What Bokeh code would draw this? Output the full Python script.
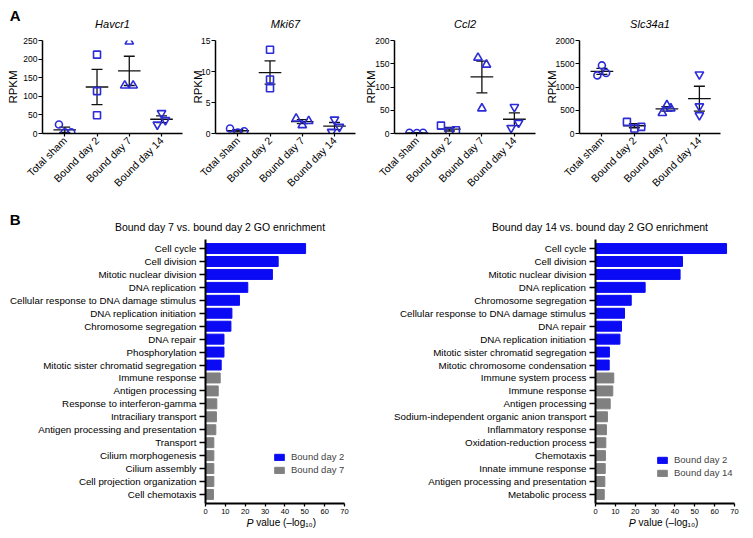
from math import pi
import numpy as np
from bokeh.plotting import figure
from bokeh.layouts import row, column
from bokeh.models import Range1d, FixedTicker, Label, ColumnDataSource
from bokeh.embed import file_html
from bokeh.resources import INLINE

FONT = "Liberation Sans"
BLUE_PT = "#2b2bd8"
BLUE = "#0a0af5"
GRAY = "#808080"
INK = "#111111"

# ---------------- Panel A data ----------------
groups = ["Total sham", "Bound day 2", "Bound day 7", "Bound day 14"]
genes = ["Havcr1", "Mki67", "Ccl2", "Slc34a1"]
markers = ["circle", "square", "triangle", "inverted_triangle"]

havcr1 = [[24, 3, 3], [212, 114, 49], [247, 129, 129], [55, 24, 36]]
havcr1_dx = [[-0.18, 0.0, 0.2], [0.0, 0.0, 0.0], [0.0, -0.14, 0.12], [0.0, -0.13, 0.12]]
mki67 = [[0.8, 0.16, 0.37], [13.5, 8.7, 7.3], [2.4, 1.34, 2.0], [2.25, 0.27, 1.07]]
mki67_dx = [[-0.24, 0.0, 0.2], [0.0, 0.0, 0.0], [-0.19, 0.0, 0.2], [0.0, -0.09, 0.15]]
ccl2 = [[1.5, 1.0, 1.5], [17, 4, 7], [163, 148, 54], [57, 12, 23]]
ccl2_dx = [[-0.23, 0.0, 0.19], [-0.26, 0.0, 0.2], [-0.12, 0.14, 0.0], [0.0, -0.1, 0.13]]
slc34a1 = [[1464, 1250, 1300], [250, 107, 143], [610, 440, 540], [1271, 585, 393]]
slc34a1_dx = [[0.0, -0.14, 0.13], [-0.23, 0.0, 0.21], [0.0, -0.14, 0.12], [0.0, 0.0, 0.0]]

y_max = [250, 15, 200, 2000]
y_ticks = [[0, 50, 100, 150, 200, 250], [0, 5, 10, 15], [0, 50, 100, 150, 200],
           [0, 500, 1000, 1500, 2000]]

# ---------------- Panel B data ----------------
go7_title = "Bound day 7 vs. bound day 2 GO enrichment"
go7_terms = ["Cell cycle", "Cell division", "Mitotic nuclear division", "DNA replication",
             "Cellular response to DNA damage stimulus", "DNA replication initiation",
             "Chromosome segregation", "DNA repair", "Phosphorylation",
             "Mitotic sister chromatid segregation", "Immune response", "Antigen processing",
             "Response to interferon-gamma", "Intraciliary transport",
             "Antigen processing and presentation", "Transport", "Cilium morphogenesis",
             "Cilium assembly", "Cell projection organization", "Cell chemotaxis"]
go7_vals = [50.4, 36.6, 33.7, 21.3, 17.1, 13.3, 12.8, 9.3, 9.3, 7.9,
            7.4, 6.4, 5.7, 5.5, 5.2, 4.2, 4.2, 4.2, 4.2, 4.0]
go7_group = ["Bound day 2", "Bound day 2", "Bound day 2", "Bound day 2", "Bound day 2",
             "Bound day 2", "Bound day 2", "Bound day 2", "Bound day 2", "Bound day 2",
             "Bound day 7", "Bound day 7", "Bound day 7", "Bound day 7", "Bound day 7",
             "Bound day 7", "Bound day 7", "Bound day 7", "Bound day 7", "Bound day 7"]

go14_title = "Bound day 14 vs. bound day 2 GO enrichment"
go14_terms = ["Cell cycle", "Cell division", "Mitotic nuclear division", "DNA replication",
              "Chromosome segregation", "Cellular response to DNA damage stimulus",
              "DNA repair", "DNA replication initiation",
              "Mitotic sister chromatid segregation", "Mitotic chromosome condensation",
              "Immune system process", "Immune response", "Antigen processing",
              "Sodium-independent organic anion transport", "Inflammatory response",
              "Oxidation-reduction process", "Chemotaxis", "Innate immune response",
              "Antigen processing and presentation", "Metabolic process"]
go14_vals = [66.0, 43.8, 42.6, 25.0, 18.0, 14.6, 13.1, 12.3, 7.0, 6.9,
             9.2, 8.7, 7.4, 6.0, 5.5, 5.2, 5.0, 4.9, 4.7, 4.4]
go14_group = ["Bound day 2", "Bound day 2", "Bound day 2", "Bound day 2", "Bound day 2",
              "Bound day 2", "Bound day 2", "Bound day 2", "Bound day 2", "Bound day 2",
              "Bound day 14", "Bound day 14", "Bound day 14", "Bound day 14", "Bound day 14",
              "Bound day 14", "Bound day 14", "Bound day 14", "Bound day 14", "Bound day 14"]
x_ticks_b = [0, 10, 20, 30, 40, 50, 60, 70]
x_label_italic = "P"
x_label_rest = "value (\u2013log\u2081\u2080)"

# ---------------- layout constants (pixels) ----------------
TOTAL_W = 750
TOP_W = [185, 173, 180, 211]
TOP_BL = [42, 30, 36, 41]
TOP_BR = [3, 3, 3, 29]
RPKM_STANDOFF = [1, -6, -5, -5]
BOT_W = [388, 362]
BOT_BL = [205, 207]
BOT_BR = [44, 16]
X0, X1 = -0.69, 3.65
SHIFT = 3.7  # baseline correction for Label text


def base_fig(width, height, xr, yr, bl, br, bt, bb):
    p = figure(width=width, height=height, x_range=xr, y_range=yr,
               min_border_left=bl, min_border_right=br, min_border_top=bt,
               min_border_bottom=bb, output_backend="svg", toolbar_location=None, tools="")
    p.outline_line_color = None
    p.grid.visible = False
    p.background_fill_color = "white"
    p.border_fill_color = "white"
    for ax in (p.xaxis[0], p.yaxis[0]):
        ax.axis_line_color = "black"
        ax.major_tick_line_color = "black"
        ax.minor_tick_line_color = None
        ax.major_tick_in = 0
        ax.major_label_text_font = FONT
        ax.major_label_text_color = "black"
        ax.axis_label_text_font = FONT
        ax.axis_label_text_font_style = "normal"
        ax.axis_label_text_color = "black"
    return p


def strip(height):
    p = figure(width=TOTAL_W, height=height, x_range=Range1d(0, TOTAL_W),
               y_range=Range1d(0, height), x_axis_location=None, y_axis_location=None,
               min_border=0, output_backend="svg", toolbar_location=None, tools="")
    p.outline_line_color = None
    p.grid.visible = False
    p.background_fill_color = "white"
    p.border_fill_color = "white"
    return p


def add_label(p, x, y_from_top, text, size="10px", style="normal", align="left"):
    h = p.y_range.end
    p.add_layout(Label(x=x, y=h - y_from_top + SHIFT, text=text, text_font=FONT,
                       text_font_size=size, text_font_style=style, text_align=align,
                       text_baseline="alphabetic", text_color="black"))


# ---------------- Panel A ----------------
all_vals = [havcr1, mki67, ccl2, slc34a1]
all_dx = [havcr1_dx, mki67_dx, ccl2_dx, slc34a1_dx]

top = []
for k, gene in enumerate(genes):
    p = base_fig(TOP_W[k], 174, Range1d(X0, X1), Range1d(0, y_max[k]),
                 TOP_BL[k], TOP_BR[k], 9, 72)
    ya = p.yaxis[0]
    ya.ticker = FixedTicker(ticks=y_ticks[k])
    ya.major_tick_out = 4
    ya.major_label_standoff = 1
    ya.axis_line_width = 1.5
    ya.major_tick_line_width = 1.2
    ya.major_label_text_font_size = "8.5px"
    ya.axis_label = "RPKM"
    ya.axis_label_text_font_size = "11.5px"
    ya.axis_label_standoff = RPKM_STANDOFF[k]
    xa = p.xaxis[0]
    xa.ticker = FixedTicker(ticks=[0, 1, 2, 3])
    xa.major_label_overrides = {i: g for i, g in enumerate(groups)}
    xa.major_label_orientation = pi / 4
    xa.major_tick_out = 3
    xa.major_label_standoff = 2
    xa.axis_line_width = 1.5
    xa.major_tick_line_width = 1.2
    xa.major_label_text_font_size = "10.5px"

    for gi in range(4):
        v = np.array(all_vals[k][gi], dtype=float)
        m = v.mean()
        sem = v.std(ddof=1) / np.sqrt(len(v))
        p.segment(x0=[gi - 0.35, gi, gi - 0.17, gi - 0.17],
                  x1=[gi + 0.35, gi, gi + 0.17, gi + 0.17],
                  y0=[m, m - sem, m + sem, m - sem], y1=[m, m + sem, m + sem, m - sem],
                  line_color=INK, line_width=1.3)
    for gi in range(4):
        xs = [gi + d for d in all_dx[k][gi]]
        sz = 7 if gi < 2 else 8.5
        p.scatter(xs, all_vals[k][gi], marker=markers[gi], size=sz, fill_color=None,
                  line_color=BLUE_PT, line_width=1.6)
    top.append(p)

# strip above panel A: "A" and gene titles (strip spans y 0..31)
s1 = strip(31)
add_label(s1, 9.3, 18.3, "A", size="15px", style="bold")
x_left = 0
for k, gene in enumerate(genes):
    fl = x_left + TOP_BL[k]
    fw = TOP_W[k] - TOP_BL[k] - TOP_BR[k]
    add_label(s1, fl + fw / 2, 27.3, gene, size="11px", style="italic", align="center")
    x_left += TOP_W[k]


# ---------------- Panel B ----------------
def go_panel(terms, vals, grp, width, bl, br, leg_loc, label_b, standoff):
    n = len(terms)
    ypos = [n - 1 - i for i in range(n)]
    p = base_fig(width, 282, Range1d(0, 70), Range1d(-0.7, n - 0.3), bl, br, 4, 14)
    src_a = ColumnDataSource(dict(y=[ypos[i] for i in range(n) if grp[i] == "Bound day 2"],
                                  v=[vals[i] for i in range(n) if grp[i] == "Bound day 2"]))
    src_b = ColumnDataSource(dict(y=[ypos[i] for i in range(n) if grp[i] == label_b],
                                  v=[vals[i] for i in range(n) if grp[i] == label_b]))
    p.hbar(y="y", right="v", left=0, height=0.77, source=src_a, fill_color=BLUE,
           line_color=BLUE, legend_label="Bound day 2")
    p.hbar(y="y", right="v", left=0, height=0.77, source=src_b, fill_color=GRAY,
           line_color=GRAY, legend_label=label_b)
    ya = p.yaxis[0]
    ya.ticker = FixedTicker(ticks=ypos)
    ya.major_label_overrides = {ypos[i]: terms[i] for i in range(n)}
    ya.major_tick_out = 6
    ya.major_label_standoff = 3
    ya.axis_line_width = 2
    ya.major_tick_line_width = 1.5
    ya.major_label_text_font_size = "9.75px"
    xa = p.xaxis[0]
    xa.ticker = FixedTicker(ticks=x_ticks_b)
    xa.major_tick_out = 3
    xa.major_label_standoff = 2
    xa.axis_line_width = 2
    xa.major_tick_line_width = 1.3
    xa.major_label_text_font_size = "7.5px"

    lg = p.legend[0]
    lg.location = leg_loc
    lg.glyph_width = 12
    lg.glyph_height = 8
    lg.label_height = 13
    lg.label_standoff = standoff
    lg.label_text_font = FONT
    lg.label_text_font_size = "9.5px"
    lg.padding = 0
    lg.margin = 0
    lg.spacing = 0
    lg.border_line_color = None
    lg.background_fill_alpha = 0
    return p


left = go_panel(go7_terms, go7_vals, go7_group, BOT_W[0], BOT_BL[0], BOT_BR[0], (68, 27),
                "Bound day 7", 6)
right = go_panel(go14_terms, go14_vals, go14_group, BOT_W[1], BOT_BL[1], BOT_BR[1], (61, 24),
                 "Bound day 14", 6)

# strip between rows: "B" and GO titles (strip spans y 205..235)
s2 = strip(30)
add_label(s2, 9.3, 17.3, "B", size="15px", style="bold")
add_label(s2, 219.5, 25.3, go7_title, size="10.5px", align="center")
add_label(s2, 599.5, 25.3, go14_title, size="10.5px", align="center")

# strip below panel B: x-axis titles (strip spans y 517..532)
s3 = strip(15)
frame_lefts = [BOT_BL[0], BOT_W[0] + BOT_BL[1]]
p_offsets = [41, 33.3]
for fl, po in zip(frame_lefts, p_offsets):
    add_label(s3, fl + po, 9, x_label_italic, size="10.5px", style="italic")
    add_label(s3, fl + po + 9.8, 9, x_label_rest, size="10px")

layout = column(s1, row(*top), s2, row(left, right), s3)
open("out.html", "w").write(file_html(layout, INLINE))
